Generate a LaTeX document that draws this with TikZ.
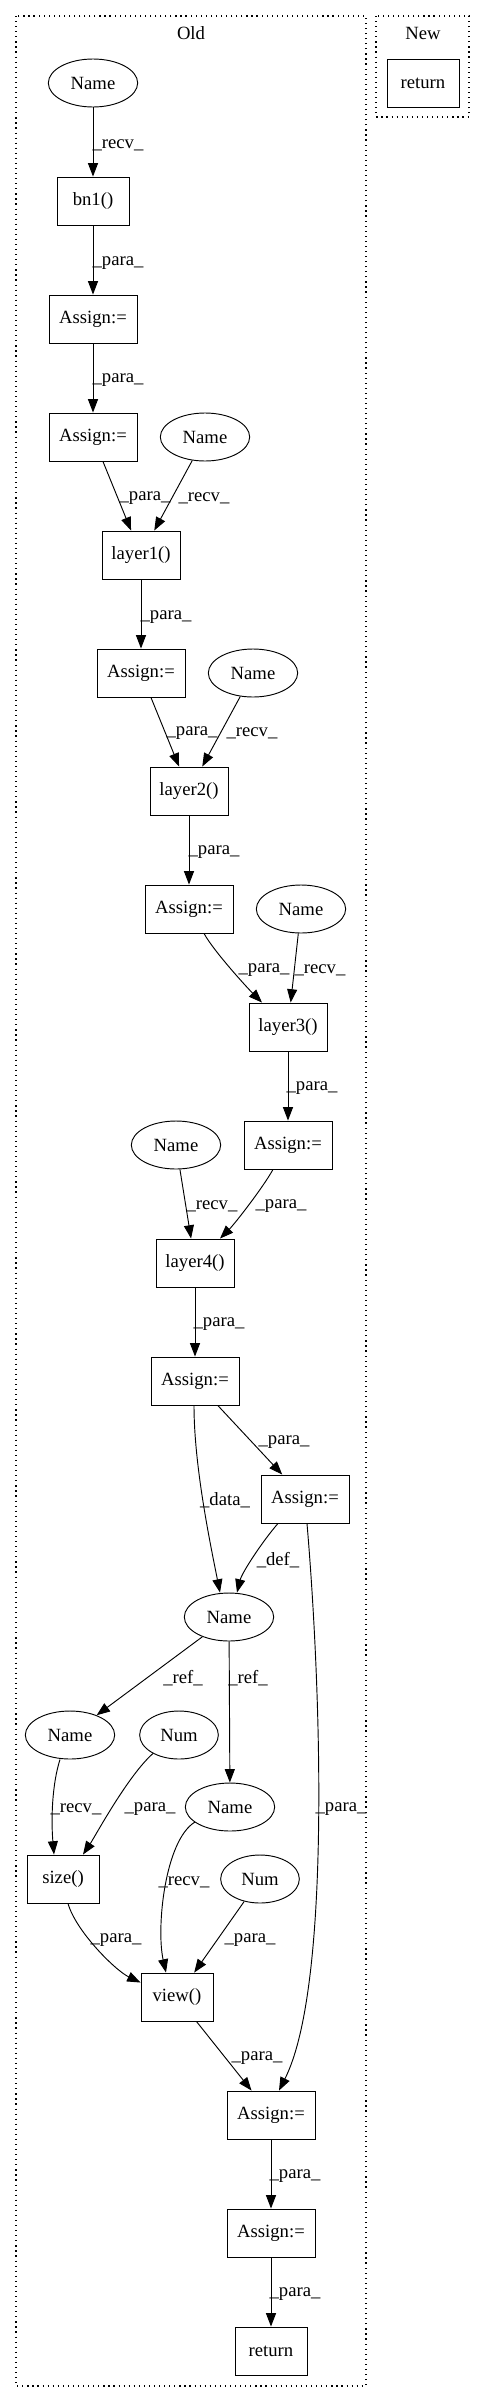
\documentclass[tikz,border=0pt]{standalone}
\usepackage{fontspec}
\setmainfont{Liberation Serif}
\usetikzlibrary{shapes.geometric,arrows.meta,calc}
\begin{document}
\begin{tikzpicture}[x=0.75pt,y=-0.75pt,
  font=\fontsize{14pt}{16pt}\selectfont,
  box/.style={draw, line width=0.7pt, rectangle, minimum height=36pt, inner sep=0pt, minimum width=54pt},
  abox/.style={box, minimum width=66pt},
  lbox/.style={box, minimum width=58.5pt},
  ell/.style={draw, line width=0.7pt, ellipse, minimum height=36pt, inner sep=0pt, minimum width=67pt},
  nell/.style={ell, minimum width=59pt},
  e/.style={draw, line width=0.7pt, -{Triangle[length=10pt,width=7.5pt]}},
  lab/.style={inner sep=0pt},
  cl/.style={draw, line width=0.9pt, dash pattern=on 0.9pt off 2.9pt}]
\useasboundingbox (0,0) rectangle (485,2402);
% clusters
\draw[cl] (16,16) rectangle (366,2386);
\draw[cl] (376,16) rectangle (469,117);
\node[lab] (old) at (191,33) {Old};
\node[lab] (new) at (423,33) {New};
% new
\node[box] (retn) at (423,83) {return};
% old nodes
\node[ell] (n1) at (93,83) {Name};
\node[box] (bn1) at (93,201) {bn1()};
\node[abox] (a1) at (93,319) {Assign:=};
\node[abox] (a2) at (93,437) {Assign:=};
\node[ell] (n2) at (205,437) {Name};
\node[lbox] (l1) at (141,555) {layer1()};
\node[abox] (a3) at (141,673) {Assign:=};
\node[ell] (n3) at (253,673) {Name};
\node[lbox] (l2) at (189,791) {layer2()};
\node[abox] (a4) at (189,909) {Assign:=};
\node[ell] (n4) at (301,909) {Name};
\node[lbox] (l3) at (288,1027) {layer3()};
\node[abox] (a5) at (288,1145) {Assign:=};
\node[ell] (n5) at (176,1145) {Name};
\node[lbox] (l4) at (195,1263) {layer4()};
\node[abox] (a6) at (195,1381) {Assign:=};
\node[abox] (a7) at (305,1499) {Assign:=};
\node[ell] (nc) at (229,1617) {Name};
\node[ell] (nl) at (70,1735) {Name};
\node[nell] (num1) at (179,1735) {Num};
\node[ell] (nr) at (230,1807) {Name};
\node[box] (sz) at (63,1879) {size()};
\node[nell] (num2) at (260,1879) {Num};
\node[box] (vw) at (177,1997) {view()};
\node[abox] (a8) at (271,2115) {Assign:=};
\node[abox] (a9) at (271,2233) {Assign:=};
\node[box] (ret) at (271,2351) {return};
% straight edges
\draw[e] (n1) -- (bn1);
\draw[e] (bn1) -- (a1);
\draw[e] (a1) -- (a2);
\draw[e] (a2) -- (l1);
\draw[e] (n2) -- (l1);
\draw[e] (l1) -- (a3);
\draw[e] (a3) -- (l2);
\draw[e] (n3) -- (l2);
\draw[e] (l2) -- (a4);
\draw[e] (n4) -- (l3);
\draw[e] (l3) -- (a5);
\draw[e] (n5) -- (l4);
\draw[e] (l4) -- (a6);
\draw[e] (a6) -- (a7);
\draw[e] (nc) -- (nl);
\draw[e] (nc) -- (nr);
\draw[e] (num2) -- (vw);
\draw[e] (vw) -- (a8);
\draw[e] (a8) -- (a9);
\draw[e] (a9) -- (ret);
% curved edges
\draw[e] ($(a4.south)+(15,0)$) .. controls +(10,18) and +(-15,-15) .. ($(l3.north)+(-26,0)$);
\draw[e] ($(a5.south)+(-15,0)$) .. controls +(-10,18) and +(15,-15) .. ($(l4.north)+(25,0)$);
\draw[e] ($(a6.south)+(-1,0)$) .. controls +(0,60) and +(-10,-50) .. ($(nc.north)+(-9,0)$);
\draw[e] ($(a7.south)+(-27,0)$) .. controls +(-15,17) and +(5,-20) .. ($(nc.north)+(8,0)$);
\draw[e] ($(a7.south)+(2,0)$) .. controls +(15,177) and +(51,-101) .. ($(a8.north)+(8,0)$);
\draw[e] ($(nl.south)+(-10,0)$) .. controls +(-8,25) and +(-3,-35) .. ($(sz.north)+(-9,0)$);
\draw[e] ($(num1.south)+(-26,-6)$) .. controls +(-25,22) and +(12,-18) .. ($(sz.north)+(20,0)$);
\draw[e] ($(sz.south)+(5,0)$) .. controls +(8,28) and +(-25,-12) .. ($(vw.north west)+(0,10)$);
\draw[e] ($(nr.center)+(-35,15)$) .. controls +(-30,18) and +(-10,-45) .. ($(vw.north)+(-11,0)$);
% labels
\node[lab] (t1) at (118,145) {\_recv\_};
\node[lab] (t2) at (118,263) {\_para\_};
\node[lab] (t3) at (118,380) {\_para\_};
\node[lab] (t4) at (145,498) {\_para\_};
\node[lab] (t5) at (204,498) {\_recv\_};
\node[lab] (t6) at (166,617) {\_para\_};
\node[lab] (t7) at (192,733) {\_para\_};
\node[lab] (t8) at (252,733) {\_recv\_};
\node[lab] (t9) at (214,852) {\_para\_};
\node[lab] (t10) at (264,970) {\_para\_};
\node[lab] (t11) at (320,970) {\_recv\_};
\node[lab] (t12) at (312,1088) {\_para\_};
\node[lab] (t13) at (212,1206) {\_recv\_};
\node[lab] (t14) at (281,1206) {\_para\_};
\node[lab] (t15) at (219,1324) {\_para\_};
\node[lab] (t16) at (284,1442) {\_para\_};
\node[lab] (t17) at (225,1500) {\_data\_};
\node[lab] (t18) at (278,1560) {\_def\_};
\node[lab] (t19) at (341,1809) {\_para\_};
\node[lab] (t20) at (183,1678) {\_ref\_};
\node[lab] (t21) at (248,1678) {\_ref\_};
\node[lab] (t22) at (76,1809) {\_recv\_};
\node[lab] (t23) at (150,1809) {\_para\_};
\node[lab] (t24) at (184,1882) {\_recv\_};
\node[lab] (t25) at (116,1940) {\_para\_};
\node[lab] (t26) at (250,1940) {\_para\_};
\node[lab] (t27) at (257,2058) {\_para\_};
\node[lab] (t28) at (295,2176) {\_para\_};
\node[lab] (t29) at (295,2294) {\_para\_};
\end{tikzpicture}
\end{document}
